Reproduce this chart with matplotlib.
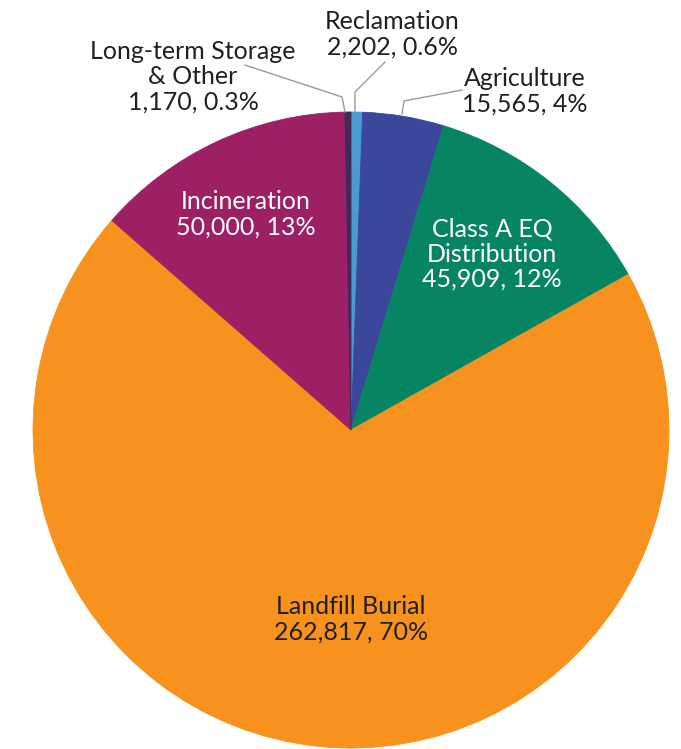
import matplotlib.pyplot as plt

# biosolids end use, dry tons
categories = ['Reclamation', 'Agriculture', 'Class A EQ\nDistribution',
              'Landfill Burial', 'Incineration', 'Long-term Storage\n& Other']
tons = [2202, 15565, 45909, 262817, 50000, 1170]
pct_labels = ['0.6%', '4%', '12%', '70%', '13%', '0.3%']
colors = ['#4A9BD1', '#3A479A', '#078563', '#F7921E', '#9D2064', '#3E2A55']

plt.rcParams['font.family'] = ['Lato', 'DejaVu Sans']

W, H = 681, 749
cx, cy, r = 351, 430, 318

fig = plt.figure(figsize=(W / 100, H / 100), dpi=100)
ax = fig.add_axes([(cx - r) / W, (H - cy - r) / H, 2 * r / W, 2 * r / H])

wedges, _ = ax.pie(tons, colors=colors, startangle=90, counterclock=False,
                   wedgeprops=dict(linewidth=0.6))
for w, c in zip(wedges, colors):
    w.set_edgecolor(c)
ax.set_xlim(-1, 1)
ax.set_ylim(-1, 1)
ax.set_aspect('equal')
ax.axis('off')


def px(x, y):
    # image pixel -> pie data coordinates
    return (x - cx) / r, (cy - y) / r


def label(i, x, y, color):
    text = '%s\n%s, %s' % (categories[i], format(tons[i], ','), pct_labels[i])
    ax.text(*px(x, y), text, ha='center', va='center', fontsize=18,
            fontweight='normal', color=color, linespacing=1.12, clip_on=False)


dark = '#231F20'
label(0, 392, 34, dark)
label(1, 525, 91, dark)
label(2, 492, 254, 'white')
label(3, 351, 619, dark)
label(4, 246, 214, 'white')
label(5, 193, 77, dark)

# leader lines for the thin slices
leaders = [
    [(385, 62), (355, 92), (355, 112)],
    [(462, 90), (404, 101), (402, 114)],
    [(245, 65), (342, 97), (345, 112)],
]
for pts in leaders:
    xs, ys = zip(*[px(x, y) for x, y in pts])
    ax.plot(xs, ys, color='#9A9A9A', linewidth=1.0, clip_on=False)

fig.savefig('out.png', dpi=100)
